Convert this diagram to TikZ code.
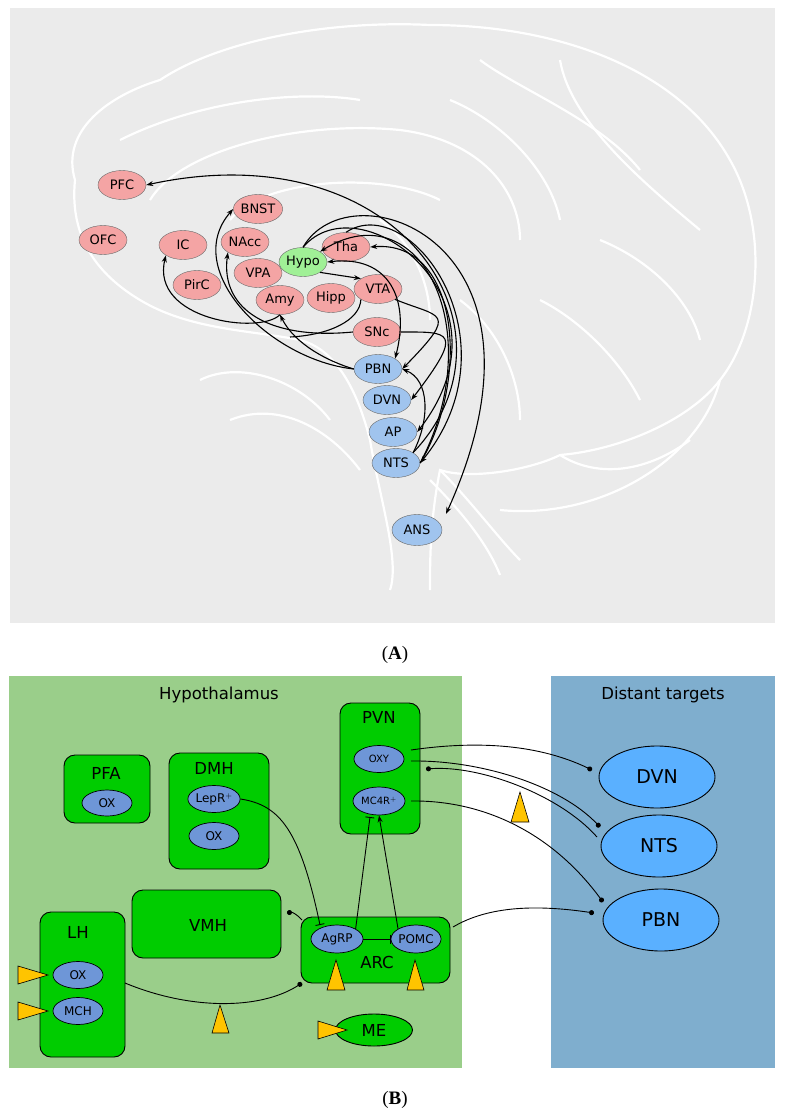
\documentclass[tikz,border=0pt]{standalone}
\usepackage{fontspec}
\setmainfont{DejaVu Sans}
\newfontfamily\capfont{Liberation Serif}
\usetikzlibrary{arrows.meta,shapes.geometric}
\definecolor{pink}{RGB}{244,164,164}
\definecolor{lblue}{RGB}{160,196,238}
\definecolor{lgreen}{RGB}{160,240,150}
\definecolor{hyp}{RGB}{154,206,138}
\definecolor{dist}{RGB}{127,174,206}
\definecolor{nuc}{RGB}{0,204,0}
\definecolor{cell}{RGB}{110,150,215}
\definecolor{tgt}{RGB}{90,176,255}
\definecolor{yel}{RGB}{255,196,0}
\begin{document}
\begin{tikzpicture}[x=1pt,y=-1pt,
 ra/.style={ellipse,draw=black!60,fill=pink,minimum width=48pt,minimum height=29pt,inner sep=0pt,font=\fontsize{13}{13}\selectfont},
 rb/.style={ra,fill=lblue},
 con/.style={-{Stealth[length=7pt,width=5pt]},line width=1.1pt},
 box/.style={draw=black,fill=nuc,rounded corners=11pt,line width=0.9pt},
 cl/.style={ellipse,draw=black,fill=cell,inner sep=0pt,line width=0.7pt,font=\fontsize{12}{12}\selectfont},
 tg/.style={ellipse,draw=black,fill=tgt,minimum width=116pt,minimum height=62pt,line width=0.9pt,font=\fontsize{19}{19}\selectfont},
 lab/.style={font=\fontsize{16.5}{16.5}\selectfont},
 dot/.style={-{Circle[length=5pt]},line width=0.9pt},
 bar/.style={-{Bar[width=9pt]},line width=0.9pt},
 arr/.style={-{Stealth[length=7pt,width=5pt]},line width=0.9pt},
 tri/.style={draw=black,fill=yel,line width=0.6pt}]
\useasboundingbox (0,0) rectangle (790,1120);
\fill[white] (0,0) rectangle (790,1120);
% ---------- Panel A ----------
\fill[black!8] (10,8) rectangle (775,623);
\begin{scope}[draw=white,line width=2.2pt]
\draw (75,180) .. controls (60,130) and (110,95) .. (160,80) .. controls (220,40) and (330,20) .. (430,25)
 .. controls (560,25) and (680,70) .. (730,160) .. controls (770,230) and (760,330) .. (720,380)
 .. controls (690,420) and (620,450) .. (560,455) .. controls (530,470) and (470,480) .. (440,470)
 .. controls (430,520) and (430,560) .. (430,590);
\draw (75,180) .. controls (70,230) and (90,270) .. (140,300) .. controls (190,330) and (250,330) .. (300,340)
 .. controls (340,350) and (360,400) .. (370,440) .. controls (380,500) and (400,560) .. (390,590);
\draw (720,380) .. controls (700,460) and (600,520) .. (500,510);
\draw (560,455) .. controls (600,480) and (650,470) .. (690,440);
\draw (150,200) .. controls (180,150) and (300,120) .. (400,130) .. controls (480,140) and (520,190) .. (520,240);
\draw (230,220) .. controls (260,180) and (380,170) .. (440,200);
\draw (120,140) .. controls (200,100) and (300,90) .. (360,100);
\draw (480,60) .. controls (520,90) and (600,120) .. (640,170);
\draw (560,60) .. controls (570,120) and (640,180) .. (700,230);
\draw (450,100) .. controls (500,120) and (550,170) .. (560,220);
\draw (600,240) .. controls (650,260) and (690,300) .. (700,340);
\draw (540,300) .. controls (580,320) and (620,360) .. (640,400);
\draw (460,300) .. controls (500,330) and (520,380) .. (520,420);
\draw (200,380) .. controls (240,360) and (300,380) .. (330,420);
\draw (230,420) .. controls (280,400) and (330,430) .. (360,470);
\draw (440,470) .. controls (470,500) and (500,540) .. (520,560);
\draw (430,480) .. controls (470,520) and (490,550) .. (500,575);
\draw (380,220) .. controls (410,240) and (430,280) .. (430,320);
\end{scope}
\node[ra] (pfc) at (122,185) {PFC};
\node[ra] (ofc) at (103,240) {OFC};
\node[ra] (ic) at (183,245) {IC};
\node[ra] (pirc) at (197,285) {PirC};
\node[ra] (bnst) at (258,209) {BNST};
\node[ra] (nacc) at (245,242) {NAcc};
\node[ra] (vpa) at (258,273) {VPA};
\node[ra,fill=lgreen] (hypo) at (303,262) {Hypo};
\node[ra] (tha) at (346,247) {Tha};
\node[ra] (amy) at (280,300) {Amy};
\node[ra] (hipp) at (331,298) {Hipp};
\node[ra] (vta) at (378,289) {VTA};
\node[ra] (snc) at (377,332) {SNc};
\node[rb] (pbn) at (378,369) {PBN};
\node[rb] (dvn) at (387,400) {DVN};
\node[rb] (ap) at (393,432) {AP};
\node[rb] (nts) at (396,463) {NTS};
\node[rb,minimum width=50pt,minimum height=31pt] (ans) at (417,530) {ANS};
\coordinate (ansin) at (446,514);
\draw[con] (nts.north east) .. controls (530,330) and (400,130) .. (pfc.east);
\draw[con] (hypo.north) .. controls (350,165) and (570,240) .. (ansin);
\draw[con] (nts.east) .. controls (490,330) and (420,190) .. (hypo.north east);
\draw[con] (nts.east) .. controls (470,380) and (460,240) .. (tha.east);
\draw[con,{Stealth[length=7pt,width=5pt]}-{Stealth[length=7pt,width=5pt]}] (hypo.east) .. controls (390,255) and (410,300) .. (pbn.north east);
\draw[con] (hypo.south east) -- (vta.north west);
\draw[con] (vta.south east) .. controls (440,318) and (460,310) .. (pbn.east);
\draw[con] (snc.east) .. controls (450,332) and (465,330) .. (dvn.east);
\draw[con] (nts.north east) .. controls (430,420) and (430,380) .. (pbn.east);
\draw[con] (hypo.north) .. controls (360,180) and (520,300) .. (ap.east);
\draw[con] (tha.north) .. controls (410,190) and (520,340) .. (nts.east);
\draw[con] (amy.south) .. controls (260,335) and (150,320) .. (ic.south west);
\draw[con] (pbn.west) .. controls (330,362) and (295,345) .. (amy.south);
\draw[con] (pbn.west) .. controls (270,360) and (180,270) .. (bnst.west);
\draw[con] (snc.west) .. controls (270,340) and (220,310) .. (nacc.south west);
\draw[line width=1.1pt] (vta.south west) .. controls (360,320) and (330,335) .. (290,337);
\node[font=\capfont\fontsize{19}{19}\selectfont] at (395,655) {(\textbf{A})};
% ---------- Panel B ----------
\fill[hyp] (9,676) rectangle (462,1068);
\fill[dist] (551,676) rectangle (775,1068);
\node[lab] at (219,695) {Hypothalamus};
\node[lab] at (663,695) {Distant targets};
\draw[box] (340,703) rectangle (420,834);
\node[lab] at (379,717) {PVN};
\node[cl,minimum width=50pt,minimum height=27pt] (oxy) at (379,759) {\fontsize{10}{10}\selectfont OXY};
\node[cl,minimum width=52pt,minimum height=28pt] (mc4r) at (379,801) {\fontsize{10}{10}\selectfont MC4R$^{+}$};
\draw[box] (64,755) rectangle (150,823);
\node[lab] at (106,773) {PFA};
\node[cl,minimum width=50pt,minimum height=26pt] (ox1) at (107,803) {OX};
\draw[box] (169,753) rectangle (269,869);
\node[lab] at (214,768) {DMH};
\node[cl,minimum width=50pt,minimum height=27pt] (lepr) at (214,799) {LepR$^{+}$};
\node[cl,minimum width=50pt,minimum height=27pt] (ox2) at (214,836) {OX};
\draw[box] (132,890) rectangle (281,958);
\node[lab] (vmh) at (208,925) {VMH};
\coordinate (vmhE) at (287,913);
\draw[box] (40,912) rectangle (125,1057);
\node[lab] at (78,932) {LH};
\node[cl,minimum width=50pt,minimum height=27pt] (ox3) at (78,975) {OX};
\node[cl,minimum width=50pt,minimum height=27pt] (mch) at (78,1011) {MCH};
\coordinate (lhE) at (125,983);
\draw[box] (301,917) rectangle (450,983);
\node[lab] at (377,962) {ARC};
\node[cl,minimum width=52pt,minimum height=28pt] (agrp) at (337,939) {AgRP};
\node[cl,minimum width=50pt,minimum height=28pt] (pomc) at (416,939) {POMC};
\coordinate (arcW) at (302,983);
\coordinate (arcNW) at (302,920);
\coordinate (arcE) at (453,927);
\node[ellipse,draw=black,fill=nuc,line width=0.9pt,minimum width=77pt,minimum height=32pt,lab] (me) at (374,1030) {ME};
\node[tg] (dvnb) at (657,777) {DVN};
\node[tg] (ntsb) at (659,846) {NTS};
\node[tg] (pbnb) at (661,920) {PBN};
\coordinate (c1) at (592,770);
\coordinate (c2) at (600,827);
\coordinate (c3) at (426,769);
\coordinate (c4) at (603,902);
\coordinate (c5) at (594,913);
\coordinate (o1) at (411,750);
\coordinate (o2) at (411,761);
\coordinate (n1) at (597,837);
\coordinate (m1) at (411,801);
\draw[dot] (o1) .. controls (480,740) and (540,745) .. (c1);
\draw[dot] (o2) .. controls (480,760) and (560,785) .. (c2);
\draw[dot] (n1) .. controls (560,795) and (480,765) .. (c3);
\draw[dot] (m1) .. controls (480,800) and (550,830) .. (c4);
\draw[dot] (arcE) .. controls (490,905) and (540,905) .. (c5);
\draw[dot] (lhE) .. controls (190,1010) and (260,1010) .. (arcW);
\draw[dot] (arcNW) .. controls (298,915) and (292,912) .. (vmhE);
\draw[bar] (lepr.east) .. controls (280,805) and (300,830) .. (320,925);
\draw[bar] (agrp.north east) -- (370,817);
\draw[arr] (pomc.north west) -- (mc4r.south);
\draw[bar] (agrp.east) -- (pomc.west);
\draw[tri] (18,966) -- (48,975) -- (18,984) -- cycle;
\draw[tri] (18,1002) -- (48,1011) -- (18,1020) -- cycle;
\draw[tri] (318,1021) -- (347,1030) -- (318,1039) -- cycle;
\draw[tri] (327,990) -- (336,960) -- (345,990) -- cycle;
\draw[tri] (407,990) -- (415,960) -- (424,990) -- cycle;
\draw[tri] (212,1033) -- (220,1005) -- (229,1033) -- cycle;
\draw[tri] (511,822) -- (520,792) -- (529,822) -- cycle;
\node[font=\capfont\fontsize{19}{19}\selectfont] at (395,1100) {(\textbf{B})};
\end{tikzpicture}
\end{document}
